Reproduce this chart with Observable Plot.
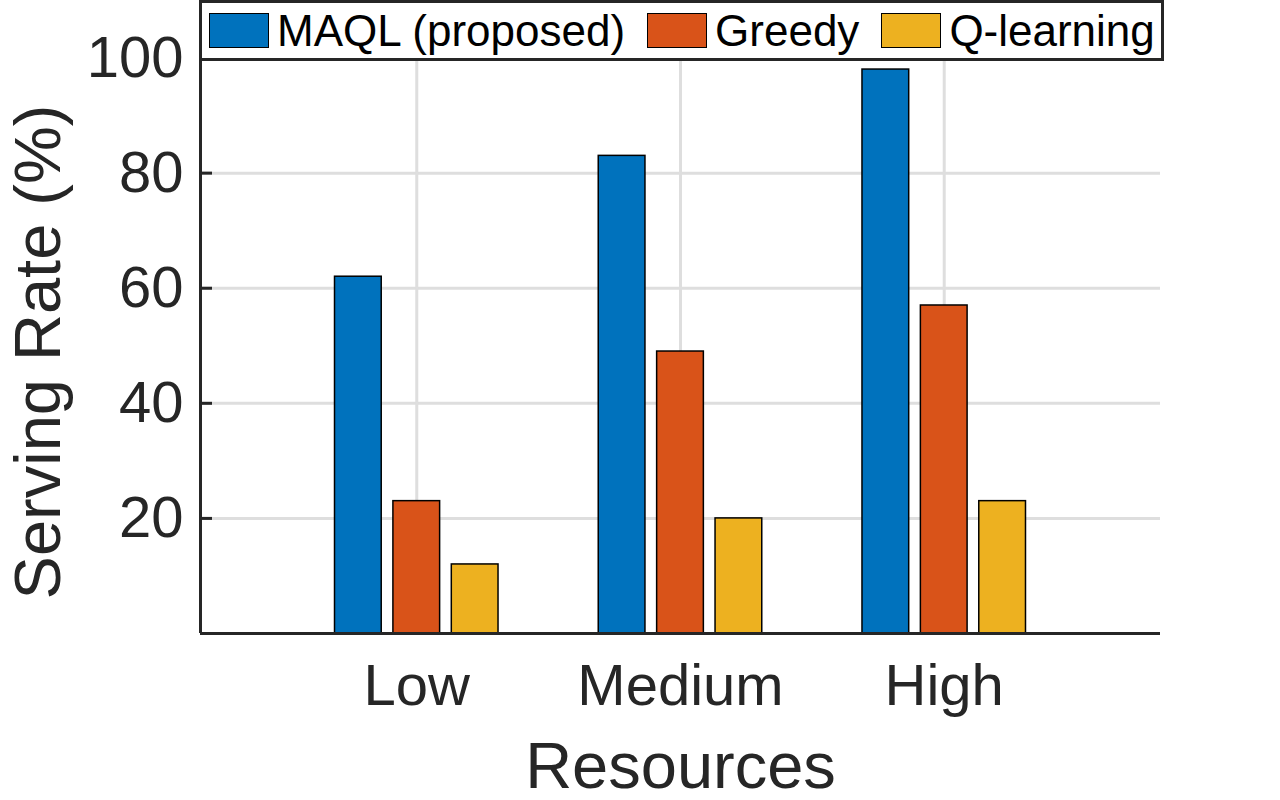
<!DOCTYPE html>
<html>
<head>
<meta charset="utf-8">
<script src="https://cdn.jsdelivr.net/npm/d3@7"></script>
<script src="https://cdn.jsdelivr.net/npm/@observablehq/plot@0.6"></script>
<style>
  html, body { margin: 0; padding: 0; background: #fff; }
  #wrap { position: relative; width: 1280px; height: 800px; font-family: "Liberation Sans", Arial, Helvetica, sans-serif; }
  #legend {
    position: absolute; left: 199px; top: 0px; width: 965px; height: 61px;
    box-sizing: border-box; border: 3px solid #262626; background: #fff;
    display: flex; align-items: center; padding-left: 7px;
    font-size: 44px; color: #000; line-height: 1; white-space: nowrap;
  }
  .sw { width: 60px; height: 35px; box-sizing: border-box; border: 1.5px solid #000; margin-right: 8px; flex: none; }
  .lab { margin-right: 22px; }
</style>
</head>
<body>
<div id="wrap"></div>
<script>
// ---- data ----
const categories = ["Low", "Medium", "High"];
const seriesNames = ["MAQL (proposed)", "Greedy", "Q-learning"];
const seriesColors = ["#0072BD", "#D95319", "#EDB120"];
const maql = [62, 83, 98];
const greedy = [23, 49, 57];
const qlearning = [12, 20, 23];
const yTicks = [20, 40, 60, 80, 100];
const xLabel = "Resources";
const yLabel = "Serving Rate (%)";

// ---- build table ----
const seriesValues = [maql, greedy, qlearning];
const catPos = categories.map((c, i) => i + 1);
const xDomain = [0.18, 3.82];
const inner = d3.scaleBand().domain(seriesNames).range([-0.31, 0.31]).paddingInner(0.2);
const rows = [];
categories.forEach((c, i) => {
  seriesNames.forEach((s, j) => {
    const x1 = catPos[i] + inner(s);
    rows.push({category: c, series: s, value: seriesValues[j][i], x1, x2: x1 + inner.bandwidth()});
  });
});

const axisColor = "#262626";
const gridColor = "#dedede";

const chart = Plot.plot({
  width: 1280,
  height: 800,
  marginLeft: 200,
  marginRight: 120,
  marginTop: 0,
  marginBottom: 167,
  style: {fontFamily: "'Liberation Sans', Arial, Helvetica, sans-serif", color: axisColor, background: "white", overflow: "visible"},
  x: {type: "linear", domain: xDomain},
  y: {domain: [0, 110]},
  color: {domain: seriesNames, range: seriesColors},
  marks: [
    Plot.gridY(yTicks, {stroke: gridColor, strokeOpacity: 1, strokeWidth: 3}),
    Plot.gridX(catPos, {stroke: gridColor, strokeOpacity: 1, strokeWidth: 3}),
    Plot.rect(rows, {x1: "x1", x2: "x2", y1: 0, y2: "value", fill: "series", stroke: "#000", strokeWidth: 1.5}),
    Plot.ruleY([0], {stroke: axisColor, strokeWidth: 3}),
    Plot.ruleX([xDomain[0]], {stroke: axisColor, strokeWidth: 3}),
    Plot.tickY(yTicks, {stroke: axisColor, strokeWidth: 3, insetRight: 948}),
    Plot.axisY(yTicks, {tickSize: 0, tickPadding: 17, fontSize: 58, label: null}),
    Plot.axisX(catPos, {tickSize: 0, tickPadding: 30, fontSize: 58, tickFormat: (d) => categories[d - 1], label: null}),
    Plot.text([xLabel], {text: (d) => d, frameAnchor: "bottom", dy: 108, lineAnchor: "top", fontSize: 65, fill: axisColor}),
    Plot.text([yLabel], {text: (d) => d, frameAnchor: "left", textAnchor: "middle", lineAnchor: "middle", dx: -161, dy: 35, rotate: -90, fontSize: 65, fill: axisColor})
  ]
});

const wrap = document.getElementById("wrap");
wrap.appendChild(chart);

// legend
const legend = document.createElement("div");
legend.id = "legend";
seriesNames.forEach((s, j) => {
  const sw = document.createElement("span");
  sw.className = "sw";
  sw.style.background = seriesColors[j];
  const lab = document.createElement("span");
  lab.className = "lab";
  lab.textContent = s;
  legend.appendChild(sw);
  legend.appendChild(lab);
});
wrap.appendChild(legend);
</script>
</body>
</html>
